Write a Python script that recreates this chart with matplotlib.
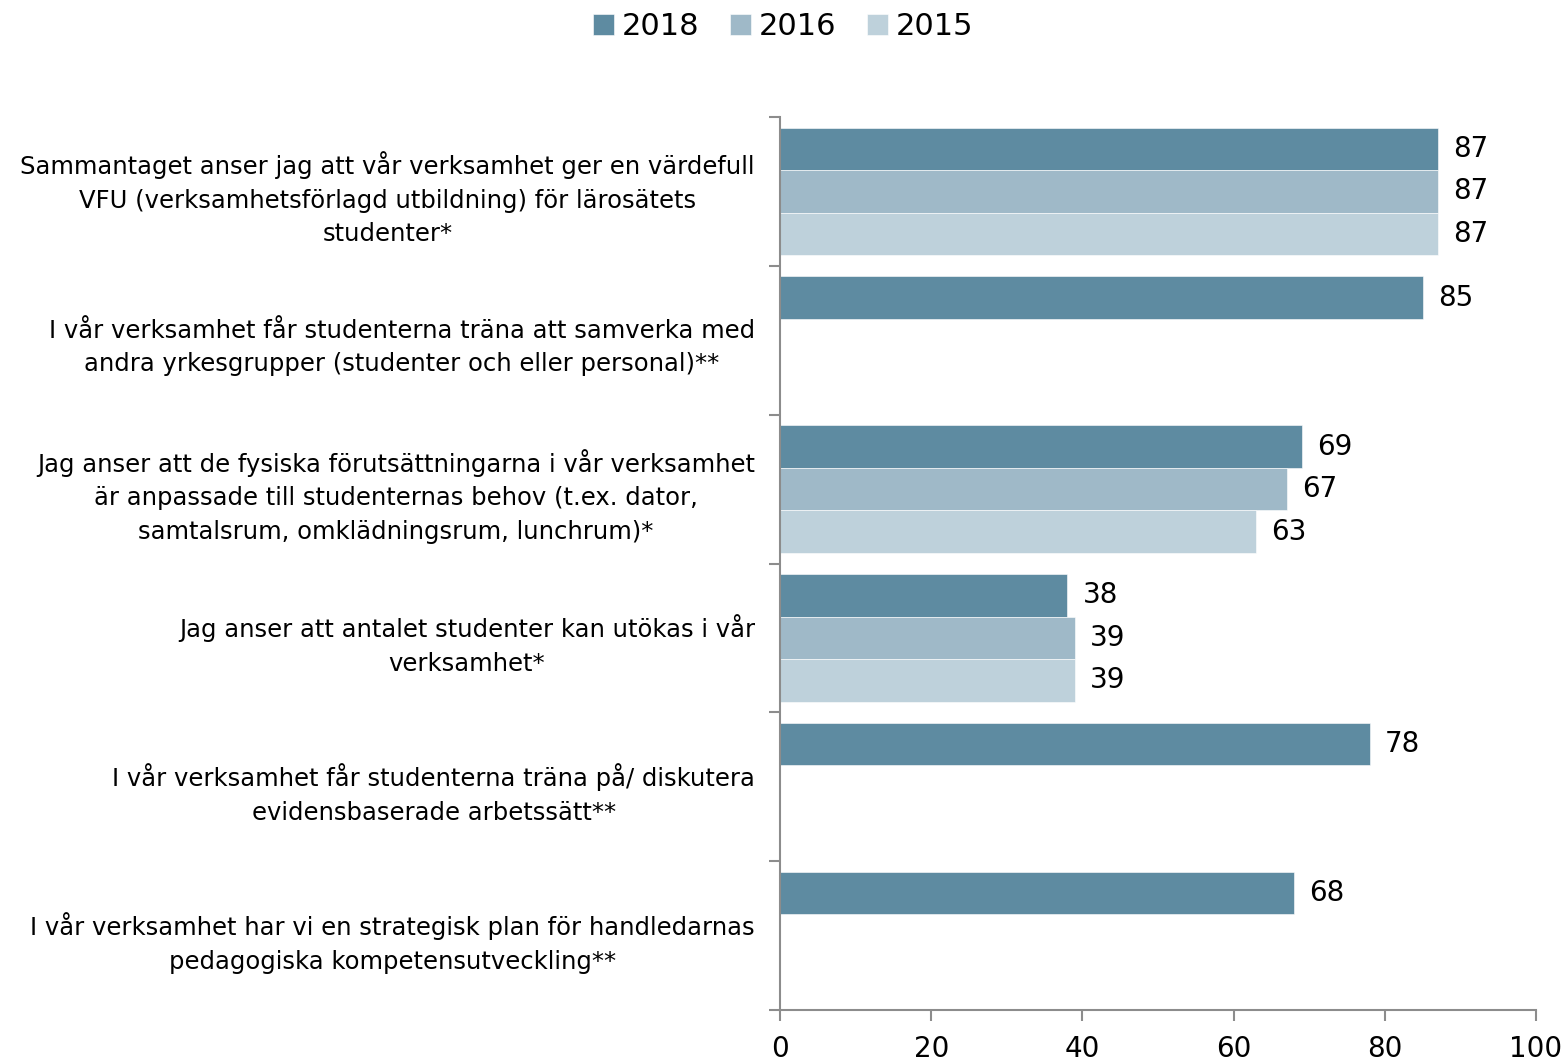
import matplotlib

matplotlib.use("Agg")

import matplotlib.pyplot as plt
import numpy as np

categories = [
    "Sammantaget anser jag att vår verksamhet ger en värdefull\nVFU (verksamhetsförlagd utbildning) för lärosätets\nstudenter*",
    "I vår verksamhet får studenterna träna att samverka med\nandra yrkesgrupper (studenter och eller personal)**",
    "Jag anser att de fysiska förutsättningarna i vår verksamhet\när anpassade till studenternas behov (t.ex. dator,\nsamtalsrum, omklädningsrum, lunchrum)*",
    "Jag anser att antalet studenter kan utökas i vår\nverksamhet*",
    "I vår verksamhet får studenterna träna på/ diskutera\nevidensbaserade arbetssätt**",
    "I vår verksamhet har vi en strategisk plan för handledarnas\npedagogiska kompetensutveckling**",
]
years = ["2018", "2016", "2015"]
values_2018 = [87, 85, 69, 38, 78, 68]
values_2016 = [87, np.nan, 67, 39, np.nan, np.nan]
values_2015 = [87, np.nan, 63, 39, np.nan, np.nan]
xticks = [0, 20, 40, 60, 80, 100]

colors = ["#5E8BA1", "#9FB9C8", "#BED1DB"]
axis_gray = "#8C8C8C"
FS = 17.5
NUM_FS = 20

plt.rcParams["font.family"] = ["DejaVu Sans"]

fig = plt.figure(figsize=(15.66, 10.64), dpi=100)
ax = fig.add_axes([780 / 1566, 1 - 1010 / 1064, 756 / 1566, 893 / 1064])

y = np.arange(len(categories))
h = 1 / 3.5
series = [values_2018, values_2016, values_2015]
for i, (vals, color, year) in enumerate(zip(series, colors, years)):
    pos = y + (i - 1) * h
    ax.barh(pos, vals, height=h, color=color, edgecolor="white", linewidth=0.4, label=year)
    for p, v in zip(pos, vals):
        if not np.isnan(v):
            ax.text(v + 2.0, p, f"{v:.0f}", va="center", ha="left", fontsize=NUM_FS)

ax.set_xlim(0, 100)
ax.set_ylim(len(categories) - 0.5, -0.5)
ax.set_xticks(xticks)
ax.set_xticklabels([str(t) for t in xticks], fontsize=NUM_FS)
ax.set_yticks(y)
ax.set_yticklabels(categories, fontsize=FS, multialignment="center", linespacing=1.5)
ax.set_yticks(np.arange(len(categories) + 1) - 0.5, minor=True)

ax.tick_params(axis="y", which="major", length=0, pad=18)
ax.tick_params(axis="y", which="minor", length=8, width=1.5, color=axis_gray, direction="out")
ax.tick_params(axis="x", which="major", length=8, width=1.5, color=axis_gray, pad=10)

for side in ["top", "right"]:
    ax.spines[side].set_visible(False)
for side in ["left", "bottom"]:
    ax.spines[side].set_color(axis_gray)
    ax.spines[side].set_linewidth(1.5)

fig.legend(loc="upper center", bbox_to_anchor=(0.5, 1.0), ncol=3, frameon=False,
           fontsize=22, handlelength=0.7, handleheight=0.7, handletextpad=0.25,
           columnspacing=1.0, borderaxespad=0.0)

fig.savefig("out.png", dpi=100)
